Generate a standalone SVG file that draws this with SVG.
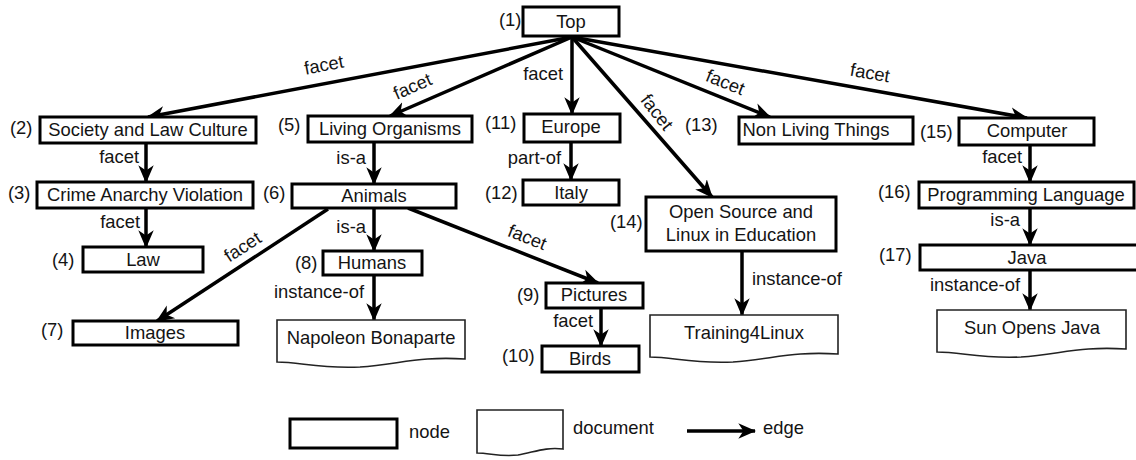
<svg xmlns="http://www.w3.org/2000/svg" width="1136" height="460" viewBox="0 0 1136 460">
<style>
text{font-family:"Liberation Sans",Arial,sans-serif;font-size:18.4px;fill:#141414}
.c{text-anchor:middle}
.e{text-anchor:end}
.box{fill:#fff;stroke:#000;stroke-width:3}
.doc{fill:#fff;stroke:#222;stroke-width:1.6}
.edge{stroke:#000;stroke-width:3.5;fill:none;marker-end:url(#arr)}
</style>
<defs>
<marker id="arr" markerUnits="userSpaceOnUse" markerWidth="18" markerHeight="18" viewBox="0 0 14 14" refX="13" refY="7" orient="auto">
<path d="M0,1 L14,7 L0,13 L4,7 z" fill="#000"/>
</marker>
</defs>
<rect width="1136" height="460" fill="#fff"/>

<g id="connectors">
<line class="edge" x1="572" y1="37" x2="148" y2="117"/>
<line class="edge" x1="572" y1="37" x2="390" y2="116"/>
<line class="edge" x1="572" y1="37" x2="572" y2="114"/>
<line class="edge" x1="572" y1="37" x2="712" y2="197"/>
<line class="edge" x1="572" y1="37" x2="770" y2="117"/>
<line class="edge" x1="572" y1="37" x2="1027" y2="118"/>
<line class="edge" x1="146" y1="143" x2="146" y2="182"/>
<line class="edge" x1="146" y1="208" x2="146" y2="247"/>
<line class="edge" x1="374" y1="142" x2="374" y2="184"/>
<line class="edge" x1="374" y1="208" x2="374" y2="251"/>
<line class="edge" x1="374" y1="275" x2="374" y2="320"/>
<line class="edge" x1="328" y1="209" x2="157" y2="321"/>
<line class="edge" x1="408" y1="208" x2="598" y2="283"/>
<line class="edge" x1="601" y1="308" x2="601" y2="346"/>
<line class="edge" x1="571" y1="142" x2="571" y2="180"/>
<line class="edge" x1="742" y1="251" x2="742" y2="315"/>
<line class="edge" x1="1030" y1="145" x2="1030" y2="182"/>
<line class="edge" x1="1030" y1="208" x2="1030" y2="245"/>
<line class="edge" x1="1030" y1="270" x2="1030" y2="310"/>
<text class="c" transform="translate(325,71) rotate(-10.7)">facet</text>
<text class="c" transform="translate(415,92) rotate(-23.5)">facet</text>
<text class="e" x="563" y="80">facet</text>
<text class="c" transform="translate(652,116) rotate(52)">facet</text>
<text class="c" transform="translate(723,88) rotate(22)">facet</text>
<text class="c" transform="translate(869,79) rotate(10)">facet</text>
<text class="c" transform="translate(246,252) rotate(-33)">facet</text>
<text class="c" transform="translate(525,243) rotate(21.5)">facet</text>
<text class="e" x="139" y="163">facet</text>
<text class="e" x="140" y="228">facet</text>
<text class="e" x="366" y="164">is-a</text>
<text class="e" x="366" y="233">is-a</text>
<text class="e" x="364" y="298">instance-of</text>
<text class="e" x="593" y="327">facet</text>
<text class="e" x="561" y="164">part-of</text>
<text x="752" y="285">instance-of</text>
<text class="e" x="1022" y="163">facet</text>
<text class="e" x="1020" y="226">is-a</text>
<text class="e" x="1020" y="291">instance-of</text>
</g>

<g id="n1"><rect class="box" x="523" y="7" width="96" height="29"/><text class="c" x="571" y="28">Top</text><text x="499" y="26">(1)</text></g>
<g id="n2"><rect class="box" x="40" y="117" width="216" height="26"/><text class="c" x="148" y="136">Society and Law Culture</text><text x="10" y="134">(2)</text></g>
<g id="n3"><rect class="box" x="37" y="182" width="216" height="26"/><text class="c" x="145" y="201">Crime Anarchy Violation</text><text x="8" y="199">(3)</text></g>
<g id="n4"><rect class="box" x="83" y="247" width="120" height="25"/><text class="c" x="143" y="266">Law</text><text x="52" y="266">(4)</text></g>
<g id="n5"><rect class="box" x="308" y="116" width="164" height="26"/><text class="c" x="390" y="135">Living Organisms</text><text x="278" y="131">(5)</text></g>
<g id="n6"><rect class="box" x="292" y="184" width="164" height="24"/><text class="c" x="374" y="202">Animals</text><text x="263" y="199">(6)</text></g>
<g id="n7"><rect class="box" x="73" y="321" width="165" height="24"/><text class="c" x="155" y="339">Images</text><text x="41" y="336">(7)</text></g>
<g id="n8"><rect class="box" x="323" y="251" width="99" height="24"/><text class="c" x="372" y="269">Humans</text><text x="295" y="269">(8)</text></g>
<g id="n9"><rect class="box" x="546" y="283" width="97" height="25"/><text class="c" x="594" y="301">Pictures</text><text x="517" y="301">(9)</text></g>
<g id="n10"><rect class="box" x="542" y="346" width="97" height="26"/><text class="c" x="590" y="365">Birds</text><text x="502" y="362">(10)</text></g>
<g id="n11"><rect class="box" x="524" y="114" width="96" height="28"/><text class="c" x="571" y="133">Europe</text><text x="485" y="129">(11)</text></g>
<g id="n12"><rect class="box" x="523" y="180" width="96" height="25"/><text class="c" x="571" y="199">Italy</text><text x="485" y="199">(12)</text></g>
<g id="n13"><rect class="box" x="739" y="117" width="174" height="27"/><text class="c" x="816" y="136">Non Living Things</text><text x="685" y="131">(13)</text></g>
<g id="n14"><rect class="box" x="646" y="197" width="190" height="54"/><text class="c" x="741" y="218">Open Source and</text><text class="c" x="741" y="241">Linux in Education</text><text x="610" y="228">(14)</text></g>
<g id="n15"><rect class="box" x="959" y="118" width="135" height="27"/><text class="c" x="1027" y="137">Computer</text><text x="920" y="138">(15)</text></g>
<g id="n16"><rect class="box" x="919" y="182" width="215" height="26"/><text class="c" x="1026" y="201">Programming Language</text><text x="878" y="198">(16)</text></g>
<g id="n17"><rect class="box" x="920" y="245" width="218" height="25"/><text class="c" x="1027" y="264">Java</text><text x="879" y="261">(17)</text></g>

<g id="d1"><path class="doc" d="M277,320 H465 V359 C420,356 400,364 360,367 C320,369 300,362 277,362 Z"/><text class="c" x="371" y="344">Napoleon Bonaparte</text></g>
<g id="d2"><path class="doc" d="M650,315 H838 V354 C793,351 773,359 733,362 C693,364 673,357 650,357 Z"/><text class="c" x="744" y="339">Training4Linux</text></g>
<g id="d3"><path class="doc" d="M937,310 H1126 V349 C1081,346 1061,354 1021,357 C981,359 961,352 937,352 Z"/><text class="c" x="1032" y="334">Sun Opens Java</text></g>

<g id="legend">
<rect class="box" x="290" y="419" width="107" height="29"/>
<text x="409" y="438">node</text>
<path class="doc" d="M477,410 H563 V449 C545,447 535,452 518,455 C500,457 490,453 477,453 Z"/>
<text x="573" y="434">document</text>
<line class="edge" x1="687" y1="431" x2="755" y2="431"/>
<text x="763" y="434">edge</text>
</g>
</svg>
